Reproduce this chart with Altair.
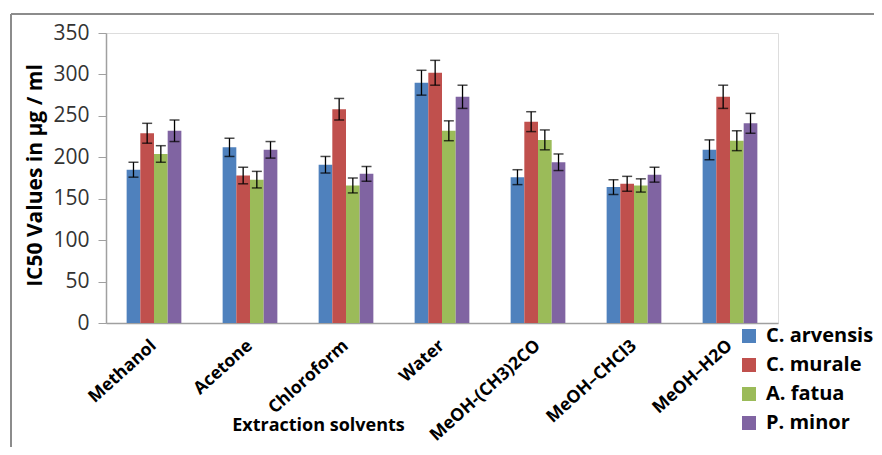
import altair as alt
import pandas as pd

categories = ["Methanol", "Acetone", "Chloroform", "Water", "MeOH-(CH3)2CO", "MeOH–CHCl3", "MeOH–H2O"]
series = ["C. arvensis", "C. murale", "A. fatua", "P. minor"]
colors = ["#4F81BD", "#C0504D", "#9BBB59", "#8064A2"]

c_arvensis = [185, 212, 191, 290, 176, 164, 209]
c_murale = [229, 178, 258, 302, 243, 168, 273]
a_fatua = [204, 173, 166, 232, 221, 166, 220]
p_minor = [232, 209, 180, 273, 194, 179, 241]

c_arvensis_err = [9, 11, 10, 15, 9, 9, 12]
c_murale_err = [12, 10, 13, 15, 12, 9, 14]
a_fatua_err = [10, 10, 9, 12, 12, 8, 12]
p_minor_err = [13, 10, 9, 14, 10, 9, 12]

values = [c_arvensis, c_murale, a_fatua, p_minor]
errors = [c_arvensis_err, c_murale_err, a_fatua_err, p_minor_err]

rows = []
for s, vals, errs in zip(series, values, errors):
    for c, v, e in zip(categories, vals, errs):
        rows.append({"solvent": c, "species": s, "value": v, "lo": v - e, "hi": v + e})
df = pd.DataFrame(rows)

FONT = "Open Sans"
W, H = 672, 290

x_enc = alt.X("solvent:N", sort=categories,
              scale=alt.Scale(paddingInner=0.43, paddingOuter=0.215),
              axis=alt.Axis(title="Extraction solvents", labelAngle=-42, labelAlign="right",
                            labelBaseline="middle", labelPadding=20, labelFont=FONT,
                            labelFontSize=17.5, labelFontWeight="bold", labelColor="#000",
                            ticks=False, domainColor="#a0a0a0", domainWidth=1.5,
                            titleFont=FONT, titleFontSize=18, titleFontWeight="bold",
                            titleColor="#000", titleX=212, titleY=102,
                            titleAlign="center", titleBaseline="middle", labelLimit=300))
xo = alt.XOffset("species:N", sort=series, scale=alt.Scale(paddingInner=0, paddingOuter=0))

bars = alt.Chart(df).mark_bar().encode(
    x=x_enc,
    xOffset=xo,
    y=alt.Y("value:Q", scale=alt.Scale(domain=[0, 350]),
            axis=alt.Axis(title="IC50 Values in µg / ml", values=list(range(0, 351, 50)),
                          grid=False, tickSize=8, tickColor="#a0a0a0", domainColor="#a0a0a0",
                          domainWidth=1.5, labelFont=FONT, labelFontSize=21, labelColor="#333",
                          labelPadding=9, titleFont=FONT, titleFontSize=21,
                          titleFontWeight="bold", titleColor="#000", titleX=-71, titleY=142,
                          titleBaseline="middle", titleAlign="center")),
    color=alt.Color("species:N", sort=series, scale=alt.Scale(domain=series, range=colors),
                    legend=alt.Legend(title=None, orient="none", legendX=633, legendY=293,
                                      symbolType="square", symbolSize=196, symbolStrokeWidth=0,
                                      labelFont=FONT, labelFontSize=20, labelFontWeight="bold",
                                      labelColor="#000", labelOffset=7, rowPadding=9, padding=0)),
)

rules = alt.Chart(df).mark_rule(color="#000", strokeWidth=1.3).encode(
    x=alt.X("solvent:N", sort=categories), xOffset=xo,
    y="lo:Q", y2="hi:Q")
top_caps = alt.Chart(df).mark_tick(color="#000", size=10, thickness=1.5).encode(
    x=alt.X("solvent:N", sort=categories), xOffset=xo, y="hi:Q")
bot_caps = alt.Chart(df).mark_tick(color="#000", size=10, thickness=1.5).encode(
    x=alt.X("solvent:N", sort=categories), xOffset=xo, y="lo:Q")

frame_left = alt.Chart(alt.Data(values=[{}])).mark_rule(color="#8c8c8c", strokeWidth=2).encode(
    x=alt.value(-95), y=alt.value(-19), y2=alt.value(H + 400))
frame_top = alt.Chart(alt.Data(values=[{}])).mark_rule(color="#8c8c8c", strokeWidth=2).encode(
    x=alt.value(-95), x2=alt.value(W + 400), y=alt.value(-19))

chart = alt.layer(frame_left, frame_top, bars, rules, top_caps, bot_caps).properties(
    width=W, height=H,
    autosize=alt.AutoSizeParams(type="none"),
    padding={"left": 98, "top": 25, "right": 96, "bottom": 124},
).configure_view(stroke=None).configure(background="white")

chart.save("out.html", embed_options={"renderer": "svg", "actions": False})
